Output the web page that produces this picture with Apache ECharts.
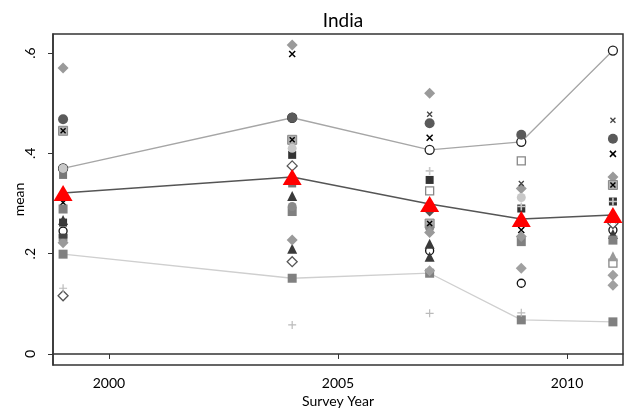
<!DOCTYPE html>
<html><head><meta charset="utf-8">
<script src="https://cdn.jsdelivr.net/npm/echarts@6/dist/echarts.min.js"></script>
<style>html,body{margin:0;padding:0;background:#fff}#c{width:626px;height:410px}</style>
</head><body><div id="c"></div>
<script>
const years = [1999, 2004, 2007, 2009, 2011];
const xTicks = [2000, 2005, 2010];
const yTicks = [0, 0.2, 0.4, 0.6];
const meanIndia = [0.321, 0.353, 0.299, 0.269, 0.277];
const upperState = [0.370, 0.471, 0.407, 0.423, 0.605];
const lowerState = [0.199, 0.151, 0.161, 0.068, 0.064];
const grayDiamondA = [0.570, 0.616, 0.520, 0.330, 0.353];
const darkCircle = [0.468, 0.471, 0.460, 0.437, 0.429];
const xSquare = [0.445, 0.427, 0.260, null, 0.337];
const hollowCircle = [0.245, null, 0.206, 0.141, 0.247];
const darkSquare = [0.262, 0.397, 0.347, 0.290, 0.304];
const darkTriangle = [0.267, 0.315, 0.220, null, 0.239];
const darkTriangle2 = [null, 0.210, 0.194, null, null];
const hollowDiamond = [0.116, 0.375, null, null, 0.260];
const hollowDiamond2 = [null, 0.184, null, null, null];
const plusState = [0.131, 0.058, 0.081, 0.082, null];
const plusState2 = [null, null, 0.365, 0.294, 0.304];
const xBlack = [0.302, 0.598, 0.431, 0.247, 0.399];
const xSmall = [null, null, 0.478, 0.340, 0.466];
const xBlack2 = [null, null, null, null, 0.267];
const hollowSquare = [null, null, 0.325, 0.385, 0.181];
const graySquare = [0.289, 0.284, null, 0.224, 0.227];
const graySquare2 = [0.357, 0.340, null, null, null];
const lightCircle = [0.370, 0.410, null, 0.312, null];
const grayCircle = [0.227, 0.294, 0.251, null, null];
const grayDiamondB = [0.222, 0.227, 0.242, 0.234, null];
const grayDiamondC = [null, null, 0.166, 0.171, 0.157];
const grayDiamondD = [null, null, null, null, 0.137];
const darkDiamond = [null, null, 0.284, null, null];
const grayTriangle = [null, null, null, null, 0.195];
const darkBar = [0.235, null, null, null, null];

const pts = arr => years.map((y, i) => arr[i] == null ? null : [y, arr[i]]).filter(p => p);
const X = 'path://M0,0L10,10M10,0L0,10';
const P = 'path://M5,0L5,10M0,5L10,5';

function sc(data, symbol, size, fill, stroke, bw, z) {
  return { type: 'scatter', data: pts(data), symbol: symbol, symbolSize: size, z: z || 3,
    itemStyle: { color: fill, borderColor: stroke || fill, borderWidth: bw || 0, opacity: 1 } };
}

const series = [
  { type: 'line', data: pts(upperState), symbol: 'circle', symbolSize: 9, z: 2,
    lineStyle: { color: '#a6a6a6', width: 1.3 },
    itemStyle: { color: '#fff', borderColor: '#222', borderWidth: 1.3 } },
  { type: 'line', data: pts(lowerState), symbol: 'rect', symbolSize: 9, z: 2,
    lineStyle: { color: '#cfcfcf', width: 1.3 },
    itemStyle: { color: '#808080' } },
  sc(grayDiamondA, 'diamond', 11, '#9a9a9a'),
  sc(darkCircle, 'circle', 10, '#5a5a5a'),
  sc(xSquare, 'rect', 9, '#b0b0b0', '#888', 1),
  sc(xSquare, X, 5, '#000', '#000', 1.4, 4),
  sc(hollowCircle, 'circle', 8, '#fff', '#111', 1.3),
  sc(darkSquare, 'rect', 8, '#333'),
  sc(darkTriangle, 'triangle', 10, '#3a3a3a'),
  sc(darkTriangle2, 'triangle', 10, '#3a3a3a'),
  sc(hollowDiamond, 'diamond', 10, '#fff', '#555', 1.3),
  sc(hollowDiamond2, 'diamond', 10, '#fff', '#555', 1.3),
  sc(plusState, P, 8, '#bbb', '#bbb', 1.2),
  sc(plusState2, P, 8, '#c8c8c8', '#c8c8c8', 1.6),
  sc(xBlack, X, 6, '#000', '#000', 1.5),
  sc(xSmall, X, 5, '#444', '#444', 1.3),
  sc(xBlack2, X, 6, '#000', '#000', 1.5),
  sc(hollowSquare, 'rect', 8, '#fff', '#888', 1.3),
  sc(graySquare, 'rect', 9, '#808080'),
  sc(graySquare2, 'rect', 8, '#777'),
  sc(lightCircle, 'circle', 9, '#c8c8c8'),
  sc(grayCircle, 'circle', 9, '#8a8a8a'),
  sc(grayDiamondB, 'diamond', 11, '#9a9a9a'),
  sc(grayDiamondC, 'diamond', 11, '#a0a0a0'),
  sc(grayDiamondD, 'diamond', 11, '#a0a0a0'),
  sc(darkDiamond, 'diamond', 10, '#555'),
  sc(grayTriangle, 'triangle', 10, '#999'),
  sc(darkBar, 'rect', [9, 5], '#444'),
  { type: 'line', data: pts(meanIndia), symbol: 'triangle', symbolSize: [19, 16], z: 10,
    lineStyle: { color: '#555', width: 1.5 },
    itemStyle: { color: '#ff0000' } }
];

const font = 'Lato, "Open Sans", sans-serif';
const chart = echarts.init(document.getElementById('c'), null, { renderer: 'canvas' });
chart.setOption({
  animation: false,
  backgroundColor: '#fff',
  title: { text: 'India', left: 338, top: 6, textAlign: 'center',
    textStyle: { fontFamily: font, fontSize: 19, fontWeight: 'normal', color: '#000' } },
  grid: { left: 53, right: 3, top: 34, bottom: 45, show: true, borderColor: '#333', borderWidth: 1.5,
    containLabel: false, outerBoundsMode: 'none' },
  xAxis: { type: 'value', min: 1998.78, max: 2011.22,
    name: 'Survey Year', nameLocation: 'middle', nameGap: 27,
    nameTextStyle: { fontFamily: font, fontSize: 14, color: '#000' },
    axisLine: { show: true, lineStyle: { color: '#333', width: 1.5 } },
    axisTick: { show: true, length: 5, lineStyle: { color: '#333' }, customValues: xTicks },
    axisLabel: { customValues: xTicks, fontFamily: font, fontSize: 14, color: '#000', margin: 11,
      formatter: v => String(v) },
    splitLine: { show: false } },
  yAxis: { type: 'value', min: -0.022, max: 0.638,
    name: 'mean', nameLocation: 'middle', nameGap: 27, nameRotate: 90, nameMoveOverlap: false,
    nameTextStyle: { fontFamily: font, fontSize: 14, color: '#000' },
    axisLine: { show: true, lineStyle: { color: '#333', width: 1.5 } },
    axisTick: { show: true, length: 5, lineStyle: { color: '#333' }, customValues: yTicks },
    axisLabel: { customValues: yTicks, rotate: 90, fontFamily: font, fontSize: 14, color: '#000', margin: 16,
      formatter: v => v === 0 ? '0' : String(Math.round(v * 10) / 10).replace(/^0/, '') },
    splitLine: { show: false } },
  series: series
});
</script></body></html>
